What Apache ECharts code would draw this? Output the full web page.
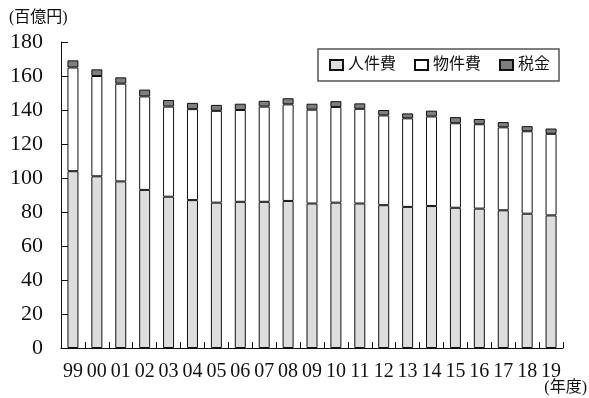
<!DOCTYPE html>
<html>
<head>
<meta charset="utf-8">
<script src="https://cdn.jsdelivr.net/npm/echarts@6/dist/echarts.min.js"></script>
<style>
  html, body { margin: 0; padding: 0; background: #ffffff; }
  #chart { width: 589px; height: 398px; }
</style>
</head>
<body>
<div id="chart"></div>
<script>
// Fiscal years (two-digit)
const years = ['99','00','01','02','03','04','05','06','07','08','09','10','11','12','13','14','15','16','17','18','19'];

// Costs in units of 100 million yen (百億円)
const personnel = [104, 101, 98, 93, 89, 87, 85.5, 86, 86, 86.5, 85, 85.5, 85, 84, 83, 83.5, 82.5, 82, 81, 79, 78];
const material  = [61, 59, 57.5, 55, 53, 53.5, 54, 54, 56, 56.8, 55.2, 56.3, 55.7, 52.8, 52.1, 52.7, 49.7, 49.6, 48.8, 48.5, 48];
const taxes     = [4.2, 3.9, 3.7, 4, 3.9, 3.7, 3.5, 3.7, 3.4, 3.6, 3.5, 3.4, 3.2, 3.2, 2.9, 3.4, 3.6, 3.1, 3.1, 3, 3.1];

// Value axis ticks
const yMin = 0, yMax = 180, yStep = 20;

const FONT = "'Liberation Serif', 'Noto Sans CJK JP', serif";
const INK = '#111111';

const barStyle = (fill) => ({ color: fill, borderColor: INK, borderWidth: 1 });

const chart = echarts.init(document.getElementById('chart'), null, { renderer: 'canvas' });

chart.setOption({
  animation: false,
  backgroundColor: '#ffffff',
  textStyle: { fontFamily: FONT, color: INK },
  grid: { left: 61, right: 26, top: 42, bottom: 50, containLabel: false },
  legend: {
    left: 318,
    top: 49,
    itemWidth: 13,
    itemHeight: 10,
    itemGap: 18,
    padding: [8, 9, 8, 11],
    borderColor: '#555555',
    borderWidth: 1.5,
    icon: 'rect',
    textStyle: { fontFamily: FONT, fontSize: 16, color: INK },
    data: ['人件費', '物件費', '税金']
  },
  xAxis: {
    type: 'category',
    data: years,
    boundaryGap: true,
    axisLine: { lineStyle: { color: INK, width: 1 } },
    axisTick: { show: true, inside: true, length: 6, alignWithLabel: false, lineStyle: { color: INK } },
    axisLabel: { fontFamily: FONT, fontSize: 20, color: INK, margin: 14, interval: 0 }
  },
  yAxis: {
    type: 'value',
    min: yMin,
    max: yMax,
    interval: yStep,
    axisLine: { show: true, lineStyle: { color: INK, width: 1 } },
    axisTick: { show: true, inside: true, length: 7, lineStyle: { color: INK } },
    splitLine: { show: false },
    axisLabel: { fontFamily: FONT, fontSize: 22, color: INK, margin: 18 }
  },
  graphic: [
    {
      type: 'text',
      left: 9,
      top: 10,
      style: { text: '(百億円)', font: "16px " + FONT, fill: INK }
    },
    {
      type: 'text',
      right: 2,
      top: 380,
      style: { text: '(年度)', font: "16px " + FONT, fill: INK }
    }
  ],
  series: [
    {
      name: '人件費', type: 'bar', stack: 'cost', barWidth: 11,
      itemStyle: barStyle('#dcdddc'), data: personnel
    },
    {
      name: '物件費', type: 'bar', stack: 'cost', barWidth: 11,
      itemStyle: barStyle('#ffffff'), data: material
    },
    {
      name: '税金', type: 'bar', stack: 'cost', barWidth: 11,
      itemStyle: barStyle('#7f7f7f'), data: taxes
    }
  ]
});
</script>
</body>
</html>
